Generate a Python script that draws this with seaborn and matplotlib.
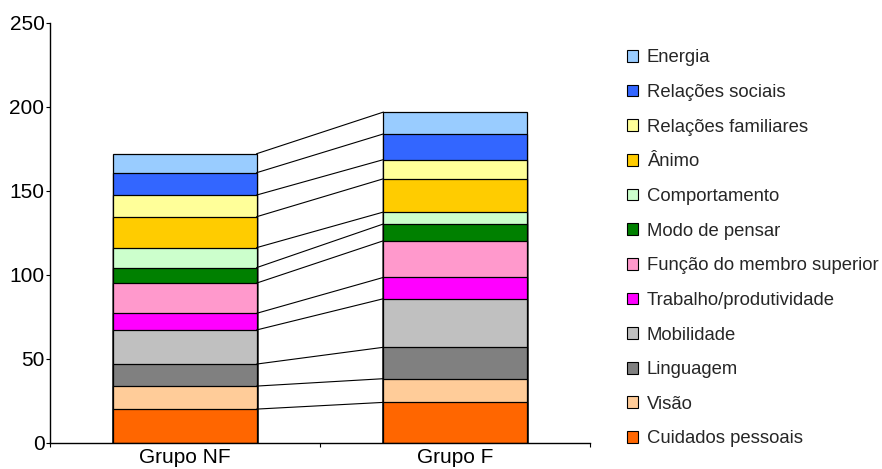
import matplotlib
matplotlib.use("Agg")
import matplotlib.pyplot as plt
from matplotlib.patches import Patch
import seaborn as sns
import numpy as np

groups = ["Grupo NF", "Grupo F"]

# domains, bottom of the stack first
domains = [
    "Cuidados pessoais", "Visão", "Linguagem", "Mobilidade",
    "Trabalho/produtividade", "Função do membro superior", "Modo de pensar",
    "Comportamento", "Ânimo", "Relações familiares", "Relações sociais", "Energia",
]
grupo_nf = [20.0, 13.7, 13.1, 20.3, 9.9, 18.0, 9.2, 11.9, 18.4, 12.9, 13.3, 11.3]
grupo_f = [24.0, 14.1, 18.7, 28.9, 12.7, 21.8, 10.0, 7.1, 19.8, 11.4, 15.3, 13.0]

colors = [
    "#FF6600", "#FFCC99", "#808080", "#C0C0C0", "#FF00FF", "#FF99CC",
    "#008000", "#CCFFCC", "#FFCC00", "#FFFF99", "#3366FF", "#99CCFF",
]

sns.set_theme(style="white")
plt.rcParams["font.family"] = ["Liberation Sans", "DejaVu Sans"]

fig = plt.figure(figsize=(8.82, 4.69), dpi=100)
ax = fig.add_axes([50 / 882, 1 - 442.7 / 469, 540 / 882, 420 / 469])

cum_nf = np.cumsum(grupo_nf)
cum_f = np.cumsum(grupo_f)
bar_w = 0.53

# stacked bars: draw the tallest cumulative total first, lower ones on top
for i in range(len(domains) - 1, -1, -1):
    sns.barplot(x=groups, y=[cum_nf[i], cum_f[i]], color=colors[i],
                saturation=1, width=bar_w, edgecolor="black",
                linewidth=0.9, ax=ax)

# series lines joining each segment top between the two groups
for i in range(len(domains)):
    ax.plot([0 + bar_w / 2, 1 - bar_w / 2], [cum_nf[i], cum_f[i]],
            color="black", lw=0.8)

ax.set_xlim(-0.5, 1.5)
ax.set_ylim(0, 250)
ax.set_yticks(range(0, 251, 50))
ax.set_xticks([-0.5, 0.5, 1.5], minor=True)
ax.set_xlabel("")
ax.set_ylabel("")

for s in ["top", "right"]:
    ax.spines[s].set_visible(False)
for s in ["left", "bottom"]:
    ax.spines[s].set_color("black")
    ax.spines[s].set_linewidth(1.0)

ax.tick_params(axis="y", which="major", left=True, length=3, width=0.8,
               color="black", direction="out", pad=1, labelsize=15,
               labelcolor="black")
ax.tick_params(axis="x", which="major", bottom=False, length=0, pad=3.5,
               labelsize=15, labelcolor="black")
ax.tick_params(axis="x", which="minor", bottom=True, length=3, width=0.8,
               color="black", direction="out")

handles = [Patch(facecolor=c, edgecolor="black", linewidth=0.8) for c in colors]
fig.legend(handles[::-1], domains[::-1], loc="upper left",
           bbox_to_anchor=(627 / 882, 1 - 49.4 / 469), frameon=False,
           fontsize=13.3, borderpad=0, borderaxespad=0,
           handlelength=0.6, handleheight=0.6, handletextpad=0.48,
           labelspacing=0.955)

fig.savefig("out.png", dpi=100)
